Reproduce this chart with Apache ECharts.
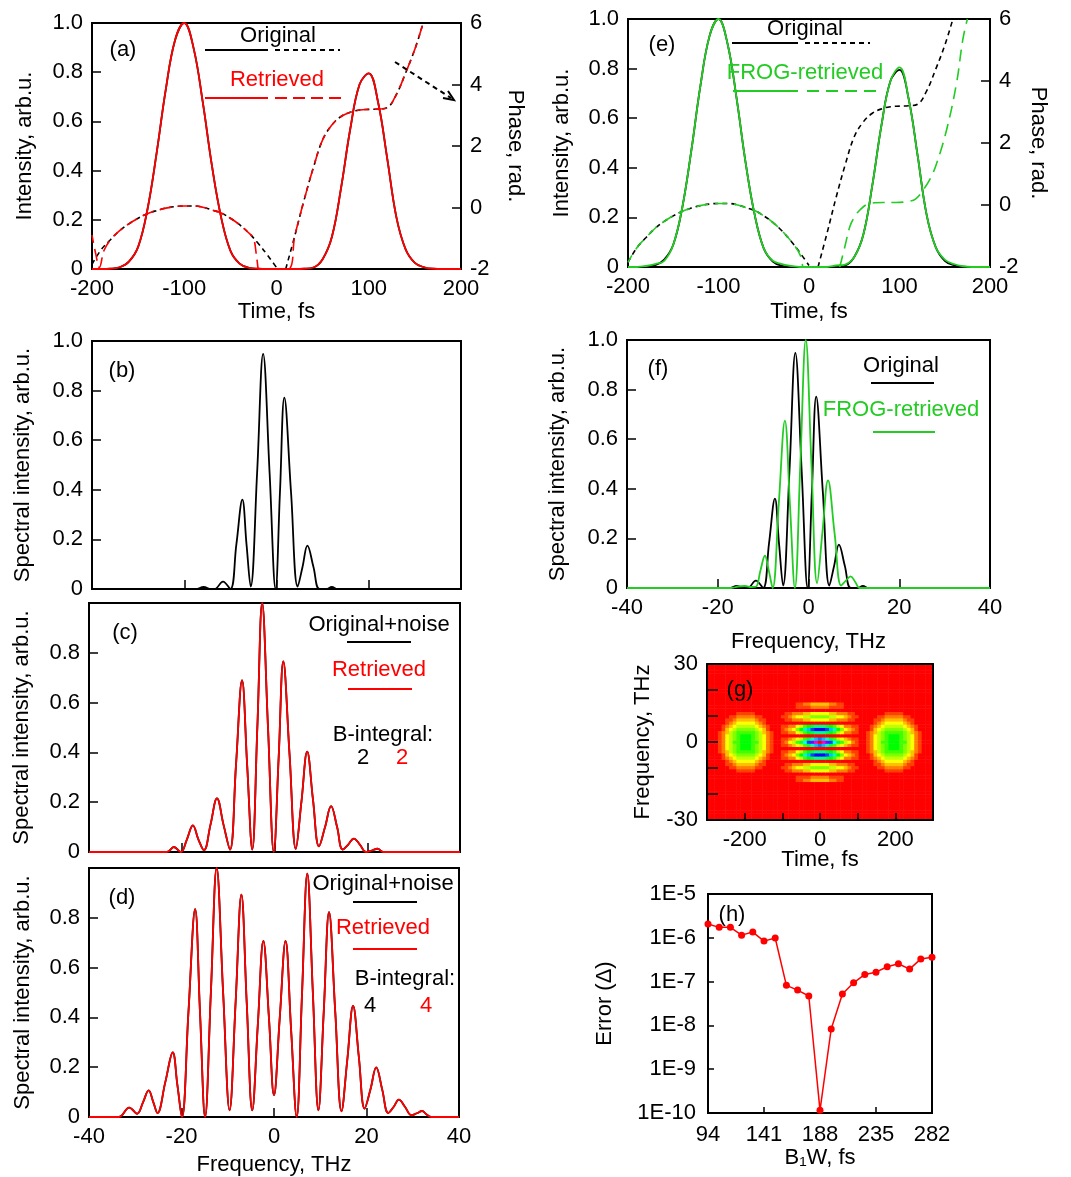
<!DOCTYPE html>
<html>
<head>
<meta charset="utf-8">
<title>FROG retrieval panels</title>
<script src="https://cdn.jsdelivr.net/npm/echarts@6/dist/echarts.min.js"></script>
<style>
html, body { margin: 0; padding: 0; background: #fff; }
#chart { width: 1071px; height: 1177px; }
</style>
</head>
<body>
<div id="chart"></div>
<script>
// ---------- values ----------

// (a), (e): temporal intensity
const timeFs = [-200, -190, -180, -170, -160, -150, -140, -130, -120, -110, -100, -90, -80, -70, -60, -50, -40, -30, -20, -10,
  0, 10, 20, 30, 40, 50, 60, 70, 80, 90, 100, 110, 120, 130, 140, 150, 160, 170, 180, 190, 200]
const intensityOrig = [0, 0, 0.001, 0.007, 0.03, 0.09, 0.24, 0.47, 0.73, 0.93, 1.0, 0.9, 0.68, 0.42, 0.21, 0.075, 0.022, 0.005, 0.001, 0,
  0, 0, 0, 0.001, 0.006, 0.04, 0.13, 0.33, 0.57, 0.75, 0.795, 0.68, 0.45, 0.21, 0.08, 0.025, 0.007, 0.001, 0, 0, 0]
const intensityFrog = [0, 0, 0.004, 0.012, 0.025, 0.09, 0.24, 0.47, 0.73, 0.93, 1.0, 0.9, 0.68, 0.42, 0.21, 0.075, 0.025, 0.012, 0.004, 0,
  0, 0, 0, 0.006, 0.01, 0.04, 0.13, 0.33, 0.57, 0.75, 0.805, 0.68, 0.45, 0.21, 0.08, 0.03, 0.012, 0.003, 0, 0, 0]

// temporal phase, [fs, rad]
const phaseOrigLeft = [[-200, -1.85], [-190, -1.37], [-180, -1.05], [-170, -0.75], [-160, -0.53], [-150, -0.35], [-140, -0.2],
  [-130, -0.1], [-120, -0.02], [-110, 0.03], [-100, 0.05], [-90, 0.05], [-80, 0.01], [-70, -0.08], [-60, -0.18], [-50, -0.35],
  [-40, -0.56], [-30, -0.83], [-20, -1.16], [-10, -1.54], [0, -1.95]]
const phaseOrigRight = [[10, -2], [20, -0.9], [30, 0.25], [40, 1.3], [50, 2.2], [60, 2.68], [70, 2.96], [80, 3.1], [90, 3.17],
  [100, 3.19], [110, 3.2], [120, 3.25], [130, 3.68], [140, 4.38], [150, 5.15], [159, 6]]
const phaseRetrLeft = [[-200, -0.9], [-196, -1.5], [-192, -1.95], [-187, -1.4], [-180, -1.05], [-170, -0.75], [-160, -0.53],
  [-150, -0.35], [-140, -0.2], [-130, -0.1], [-120, -0.02], [-110, 0.03], [-100, 0.05], [-90, 0.05], [-80, 0.01], [-70, -0.08],
  [-60, -0.18], [-50, -0.35], [-40, -0.56], [-30, -0.83], [-25, -1.0], [-22, -1.5], [-20, -2]]
const phaseRetrRight = [[-20, -2], [12, -2], [20, -0.9], [30, 0.25], [40, 1.3], [50, 2.2], [60, 2.68], [70, 2.96], [80, 3.1],
  [90, 3.17], [100, 3.19], [110, 3.2], [120, 3.25], [130, 3.68], [140, 4.38], [150, 5.15], [159, 6]]
const phaseFrogLeft = [[-200, -1.85], [-190, -1.37], [-180, -1.05], [-170, -0.75], [-160, -0.53], [-150, -0.35], [-140, -0.2],
  [-130, -0.1], [-120, -0.02], [-110, 0.03], [-100, 0.05], [-90, 0.05], [-80, 0.01], [-70, -0.08], [-60, -0.18], [-50, -0.35],
  [-40, -0.56], [-30, -0.83], [-20, -1.16], [-10, -1.6], [-7, -2]]
const phaseFrogRight = [[34, -2], [40, -1.3], [45, -0.71], [50, -0.4], [56, -0.17], [67, 0.05], [82, 0.08], [96, 0.08], [110, 0.12],
  [118, 0.2], [126, 0.48], [134, 0.85], [141, 1.34], [152, 2.42], [163, 3.93], [170, 5.34], [175, 6]]

// (b), (f): spectra, [THz, arb.u.]
const specOrig = [[-40, 0], [-17.5, 0], [-15.8, 0.008], [-14.2, 0], [-13.4, 0], [-11.6, 0.03], [-10, 0], [-8.7, 0.18], [-7.4, 0.36],
  [-6.5, 0.18], [-5.6, 0.01], [-4.2, 0.47], [-2.9, 0.948], [-1.5, 0.47], [-0.2, 0], [0.75, 0.39], [1.7, 0.772], [3.15, 0.39],
  [4.6, 0.01], [5.65, 0.09], [6.7, 0.175], [8.0, 0.09], [9.3, 0], [10.8, 0], [12, 0.008], [13.2, 0], [40, 0]]
const specFrog = [[-40, 0], [-17, 0], [-15.5, 0.006], [-14, 0.008], [-12.6, 0.004], [-11.6, 0.005], [-10.6, 0.07], [-9.6, 0.13],
  [-8.75, 0.07], [-7.9, 0], [-6.55, 0.34], [-5.2, 0.675], [-4.1, 0.34], [-3.0, 0], [-1.8, 0.5], [-0.6, 1.0], [0.65, 0.5],
  [1.9, 0.02], [3.1, 0.23], [4.3, 0.434], [5.75, 0.22], [7.2, 0.01], [8.25, 0.03], [9.3, 0.047], [10.3, 0.024], [11.3, 0],
  [13, 0], [40, 0]]

// (c): B-integral 2, original+noise and retrieved coincide
const specB2 = [[-40, 0], [-23.2, 0], [-21.7, 0.02], [-20.2, 0], [-18.9, 0.05], [-17.6, 0.107], [-16.4, 0.05], [-15.2, 0.007],
  [-13.8, 0.11], [-12.4, 0.215], [-11, 0.11], [-9.6, 0.01], [-8.3, 0.35], [-7.0, 0.69], [-5.9, 0.35], [-4.8, 0.01], [-3.7, 0.5],
  [-2.66, 1.0], [-1.4, 0.5], [-0.15, 0], [0.9, 0.38], [1.9, 0.765], [3.25, 0.39], [4.6, 0.013], [5.8, 0.2], [7.05, 0.403],
  [8.3, 0.21], [9.6, 0.023], [10.9, 0.1], [12.2, 0.184], [13.5, 0.1], [14.7, 0.01], [15.9, 0.03], [17.1, 0.054], [18.4, 0.03],
  [19.7, 0], [21, 0.006], [22.2, 0.013], [23.5, 0], [40, 0]]

// (d): B-integral 4
const specB4 = [[-40, 0], [-33.6, 0], [-31.3, 0.038], [-29.6, 0.013], [-28.3, 0.06], [-27.1, 0.107], [-26.1, 0.06], [-25.2, 0.016],
  [-23.5, 0.14], [-21.9, 0.259], [-20.9, 0.13], [-19.9, 0], [-18.5, 0.42], [-17.05, 0.835], [-16, 0.42], [-14.9, 0],
  [-13.65, 0.5], [-12.4, 1.0], [-11, 0.5], [-9.6, 0.027], [-8.3, 0.46], [-7.05, 0.893], [-5.9, 0.46], [-4.7, 0.027],
  [-3.5, 0.37], [-2.3, 0.707], [-1.1, 0.4], [0, 0.087], [1.25, 0.4], [2.5, 0.707], [3.7, 0.35], [4.9, 0], [6.05, 0.49],
  [7.2, 0.977], [8.4, 0.5], [9.6, 0.027], [10.75, 0.42], [11.9, 0.823], [13.25, 0.42], [14.6, 0.023], [15.85, 0.23],
  [17.1, 0.446], [18.35, 0.24], [19.6, 0.034], [20.85, 0.11], [22.1, 0.199], [23.4, 0.11], [24.7, 0.016], [25.85, 0.04],
  [27, 0.07], [28.35, 0.04], [29.7, 0.007], [30.9, 0.015], [32, 0.024], [33, 0.01], [34, 0], [40, 0]]

// (g): FROG trace, levels 0..24 (chars 0-9,a-o), rows listed from high to low frequency
const frogBlob = [
  '00000011111000000',
  '00001122222110000',
  '00011233333211000',
  '00012344444321000',
  '00123455555432100',
  '00134566666543100',
  '01235677777653210',
  '01245678887654210',
  '01245678887654210',
  '01245778887754210',
  '01245678887654210',
  '01245678887654210',
  '01235677777653210',
  '00134566666543100',
  '00123455555432100',
  '00012344444321000',
  '00011233333211000',
  '00001122222110000',
  '00000011111000000'
]
const frogStripes = [
  '000011223333322110000',
  '000011112222211110000',
  '000000000000000000000',
  '011222334444433222110',
  '112344556666655443211',
  '011222334444433222110',
  '000000000000000000000',
  '112245789aaa987542211',
  '123468bdfgggfdb864321',
  '112245789aaa987542211',
  '000000000000000000000',
  '11234579bdedb97543211',
  '124579cfilolifc975421',
  '11234579bdedb97543211',
  '000000000000000000000',
  '112245789aaa987542211',
  '123468bdfgggfdb864321',
  '112245789aaa987542211',
  '000000000000000000000',
  '011222334444433222110',
  '112344556666655443211',
  '011222334444433222110',
  '000000000000000000000',
  '000011112222211110000',
  '000011223333322110000'
]
const frogBlobCentersFs = [-200, 200]
const frogStripeCenterFs = 0

// (h): retrieval error vs B1W
const errBw = [94, 103.4, 112.8, 122.2, 131.6, 141, 150.4, 159.8, 169.2, 178.6, 188, 197.4, 206.8, 216.2, 225.6, 235, 244.4,
  253.8, 263.2, 272.6, 282]
const errDelta = [2.06e-6, 1.73e-6, 1.73e-6, 1.15e-6, 1.35e-6, 8.4e-7, 9.9e-7, 8.2e-8, 6.4e-8, 4.7e-8, 1.15e-10, 8.3e-9, 5.2e-8,
  9.4e-8, 1.46e-7, 1.64e-7, 2.18e-7, 2.55e-7, 1.93e-7, 3.3e-7, 3.6e-7]

// ---------- chart ----------
const FONT = '"Liberation Sans", Arial, Helvetica, sans-serif'
const BLACK = '#000000'
const RED = '#ff0000'
const GREEN = '#22cc22'

// FROG trace cells on a 61 x 49 grid spanning -300..300 fs, -30..30 THz
const frogCols = 61
const frogRows = 49
const frogGrid = []
for (let r = 0; r < frogRows; r++) frogGrid.push(new Array(frogCols).fill(0))
function stamp (rows, tFs, fTHz) {
  const c0 = Math.round((tFs + 300) / (600 / frogCols) - 0.5)
  const r0 = Math.round((fTHz + 30) / (60 / frogRows) - 0.5)
  const h = (rows.length - 1) / 2
  const w = (rows[0].length - 1) / 2
  rows.forEach((s, i) => {
    const r = r0 + h - i
    for (let j = 0; j < s.length; j++) {
      const c = c0 - w + j
      if (r >= 0 && r < frogRows && c >= 0 && c < frogCols) {
        frogGrid[r][c] = Math.max(frogGrid[r][c], parseInt(s[j], 36))
      }
    }
  })
}
frogBlobCentersFs.forEach(t => stamp(frogBlob, t, 0))
stamp(frogStripes, frogStripeCenterFs, 0)
const frogCells = []
for (let r = 0; r < frogRows; r++) {
  for (let c = 0; c < frogCols; c++) frogCells.push([c, r, frogGrid[r][c]])
}

function axis (gridIndex, min, max, interval, o) {
  o = o || {}
  return {
    type: 'value',
    gridIndex,
    min,
    max,
    interval,
    position: o.position,
    name: o.name || '',
    nameLocation: 'middle',
    nameGap: o.nameGap || 30,
    nameRotate: o.nameRotate,
    nameMoveOverlap: false,
    nameTextStyle: { color: BLACK, fontSize: 22, fontFamily: FONT },
    z: o.z || 0,
    axisLine: { show: true, onZero: false, lineStyle: { color: BLACK, width: 2 } },
    axisTick: { show: o.ticks !== false, inside: true, length: o.tickLen || 9, lineStyle: { color: BLACK, width: 1.5 } },
    axisLabel: {
      show: o.labels !== false,
      color: BLACK,
      fontSize: 22,
      fontFamily: FONT,
      margin: o.margin || 9,
      formatter: o.formatter
    },
    splitLine: { show: false }
  }
}

const fmtFrac = v => (v === 0 ? '0' : v.toFixed(1))
const fmtNoTop = v => (v === 0 ? '0' : (v > 0.95 ? '' : v.toFixed(1)))

const gridRects = [
  [92, 23, 369, 246], // a
  [628, 19, 362, 248], // e
  [92, 341, 369, 248], // b
  [627, 340, 363, 248], // f
  [89, 603, 371, 249], // c
  [89, 868, 370, 249], // d
  [707, 664, 226, 156], // g cells
  [707, 664, 226, 156], // g axes
  [708, 894, 224, 219] // h
]
const grid = gridRects.map((g, i) => ({
  left: g[0],
  top: g[1],
  width: g[2],
  height: g[3],
  show: i !== 6 && i !== 7,
  borderColor: BLACK,
  borderWidth: 2,
  backgroundColor: 'transparent',
  outerBoundsMode: 'none'
}))

const xAxis = [
  axis(0, -200, 200, 100, { name: 'Time, fs', nameGap: 32, ticks: false }),
  axis(1, -200, 200, 100, { name: 'Time, fs', nameGap: 34, ticks: false }),
  axis(2, -40, 40, 20, { labels: false }),
  axis(3, -40, 40, 20, { name: 'Frequency, THz', nameGap: 43 }),
  axis(4, -40, 40, 20, { labels: false }),
  axis(5, -40, 40, 20, { name: 'Frequency, THz', nameGap: 37 }),
  { type: 'category', gridIndex: 6, show: false, data: frogGrid[0].map((_, i) => i) },
  axis(7, -300, 300, 100, {
    name: 'Time, fs', nameGap: 29, z: 10, tickLen: 7,
    formatter: v => (v === 0 || Math.abs(v) === 200 ? String(v) : '')
  }),
  axis(7, -300, 300, 100, { position: 'top', labels: false, ticks: false, z: 10 }),
  axis(8, 94, 282, 47, { name: 'B\u2081W, fs', nameGap: 34, tickLen: 6, margin: 11 })
]

const yAxis = [
  axis(0, 0, 1, 0.2, { name: 'Intensity, arb.u.', nameGap: 56, formatter: fmtFrac }),
  axis(0, -2, 6, 2, { position: 'right', name: 'Phase, rad.', nameGap: 43, nameRotate: -90 }),
  axis(1, 0, 1, 0.2, { name: 'Intensity, arb.u.', nameGap: 55, formatter: fmtFrac }),
  axis(1, -2, 6, 2, { position: 'right', name: 'Phase, rad.', nameGap: 37, nameRotate: -90 }),
  axis(2, 0, 1, 0.2, { name: 'Spectral intensity, arb.u.', nameGap: 58, formatter: fmtFrac }),
  axis(3, 0, 1, 0.2, { name: 'Spectral intensity, arb.u.', nameGap: 58, formatter: fmtFrac }),
  axis(4, 0, 1, 0.2, { name: 'Spectral intensity, arb.u.', nameGap: 56, formatter: fmtNoTop }),
  axis(5, 0, 1, 0.2, { name: 'Spectral intensity, arb.u.', nameGap: 55, formatter: fmtNoTop }),
  { type: 'category', gridIndex: 6, show: false, data: frogGrid.map((_, i) => i) },
  axis(7, -30, 30, 10, {
    name: 'Frequency, THz', nameGap: 53, z: 10, tickLen: 11,
    formatter: v => (v === 0 || Math.abs(v) === 30 ? String(v) : '')
  }),
  axis(7, -30, 30, 10, { position: 'right', labels: false, ticks: false, z: 10 }),
  {
    type: 'log',
    gridIndex: 8,
    logBase: 10,
    min: 1e-10,
    max: 1e-5,
    name: 'Error (\u0394)',
    nameLocation: 'middle',
    nameGap: 92,
    nameMoveOverlap: false,
    nameTextStyle: { color: BLACK, fontSize: 22, fontFamily: FONT },
    axisLine: { show: true, onZero: false, lineStyle: { color: BLACK, width: 2 } },
    axisTick: { show: true, inside: true, length: 6, lineStyle: { color: BLACK, width: 1.5 } },
    axisLabel: {
      color: BLACK, fontSize: 22, fontFamily: FONT, margin: 12,
      formatter: v => '1E' + Math.round(Math.log10(v))
    },
    splitLine: { show: false }
  }
]

function curve (xi, yi, data, color, width, dash, offset) {
  return {
    type: 'line',
    xAxisIndex: xi,
    yAxisIndex: yi,
    data,
    symbol: 'none',
    showSymbol: false,
    smooth: 0.4,
    silent: true,
    lineStyle: { color, width: width || 1.8, type: dash || 'solid', dashOffset: offset || 0 }
  }
}
const pairs = (xs, ys) => xs.map((x, i) => [x, ys[i]])

const series = [
  // (a)
  curve(0, 1, phaseOrigLeft, BLACK, 1.6, [5, 4]),
  curve(0, 1, phaseOrigRight, BLACK, 1.6, [5, 4]),
  curve(0, 0, pairs(timeFs, intensityOrig), BLACK),
  curve(0, 1, phaseRetrLeft, RED, 1.6, [12, 6], 4),
  curve(0, 1, phaseRetrRight, RED, 1.6, [12, 6], 4),
  curve(0, 0, pairs(timeFs, intensityOrig), RED),
  // (e)
  curve(1, 2, pairs(timeFs, intensityOrig), BLACK),
  curve(1, 3, phaseOrigLeft, BLACK, 1.6, [5, 4]),
  curve(1, 3, phaseOrigRight, BLACK, 1.6, [5, 4]),
  curve(1, 2, pairs(timeFs, intensityFrog), GREEN),
  curve(1, 3, phaseFrogLeft, GREEN, 1.6, [12, 7], 4),
  curve(1, 3, phaseFrogRight, GREEN, 1.6, [12, 7]),
  // (b)
  curve(2, 4, specOrig, BLACK),
  // (f)
  curve(3, 5, specOrig, BLACK),
  curve(3, 5, specFrog, GREEN),
  // (c)
  curve(4, 6, specB2, BLACK),
  curve(4, 6, specB2, RED),
  // (d)
  curve(5, 7, specB4, BLACK),
  curve(5, 7, specB4, RED)
]
const heatIndex = series.length
series.push({
  type: 'heatmap',
  xAxisIndex: 6,
  yAxisIndex: 8,
  data: frogCells,
  progressive: 0,
  silent: true,
  itemStyle: { borderWidth: 0 }
})
series.push({
  type: 'line',
  xAxisIndex: 9,
  yAxisIndex: 11,
  data: pairs(errBw, errDelta),
  symbol: 'circle',
  symbolSize: 7,
  showSymbol: true,
  silent: true,
  lineStyle: { color: RED, width: 1.5 },
  itemStyle: { color: RED }
})

function text (str, x, y, color) {
  return {
    type: 'text',
    x,
    y,
    z: 100,
    style: {
      text: str,
      fill: color || BLACK,
      font: '22px ' + FONT,
      align: 'center',
      verticalAlign: 'middle',
      textAlign: 'center',
      textVerticalAlign: 'middle'
    }
  }
}
function seg (x1, y1, x2, y2, color, dash) {
  return {
    type: 'line',
    z: 100,
    shape: { x1, y1, x2, y2 },
    style: { stroke: color, lineWidth: 2, lineDash: dash || null }
  }
}

const graphic = [
  // (a)
  text('(a)', 123, 50),
  text('Original', 278, 36),
  seg(205, 50, 268, 50, BLACK),
  seg(275, 50, 340, 50, BLACK, [5, 4]),
  text('Retrieved', 277, 80, RED),
  seg(205, 98, 268, 98, RED),
  seg(275, 98, 342, 98, RED, [12, 6]),
  seg(395, 62, 451, 98, BLACK, [5, 4]),
  { type: 'polyline', z: 100, shape: { points: [[443, 98], [454, 100], [448, 91]] }, style: { stroke: BLACK, lineWidth: 2, fill: null } },
  // (e)
  text('(e)', 662, 45),
  text('Original', 805, 29),
  seg(732, 43, 798, 43, BLACK),
  seg(805, 43, 870, 43, BLACK, [5, 4]),
  text('FROG-retrieved', 805, 73, GREEN),
  seg(733, 91, 798, 91, GREEN),
  seg(807, 91, 877, 91, GREEN, [12, 7]),
  // (b)
  text('(b)', 122, 371),
  // (f)
  text('(f)', 658, 369),
  text('Original', 901, 366),
  seg(871, 383, 934, 383, BLACK),
  text('FROG-retrieved', 901, 410, GREEN),
  seg(873, 432, 935, 432, GREEN),
  // (c)
  text('(c)', 125, 633),
  text('Original+noise', 379, 625),
  seg(347, 642, 411, 642, BLACK),
  text('Retrieved', 379, 670, RED),
  seg(348, 689, 412, 689, RED),
  text('B-integral:', 383, 735),
  text('2', 363, 758),
  text('2', 402, 758, RED),
  // (d)
  text('(d)', 122, 898),
  text('Original+noise', 383, 884),
  seg(353, 902, 417, 902, BLACK),
  text('Retrieved', 383, 928, RED),
  seg(353, 949, 417, 949, RED),
  text('B-integral:', 405, 979),
  text('4', 370, 1006),
  text('4', 426, 1006, RED),
  // (g), (h)
  text('(g)', 740, 690),
  text('(h)', 732, 915)
]

const myChart = echarts.init(document.getElementById('chart'), null, { renderer: 'canvas' })
const option = {
  animation: false,
  backgroundColor: '#ffffff',
  textStyle: { fontFamily: FONT, color: BLACK },
  grid,
  xAxis,
  yAxis,
  visualMap: {
    type: 'continuous',
    show: false,
    min: 0,
    max: 24,
    seriesIndex: heatIndex,
    inRange: { color: ['#ff0000', '#ffff00', '#00ff00', '#00ffff', '#0000ff', '#ff00ff', '#ff0000'] }
  },
  series,
  graphic
}
option && myChart.setOption(option)
</script>
</body>
</html>
